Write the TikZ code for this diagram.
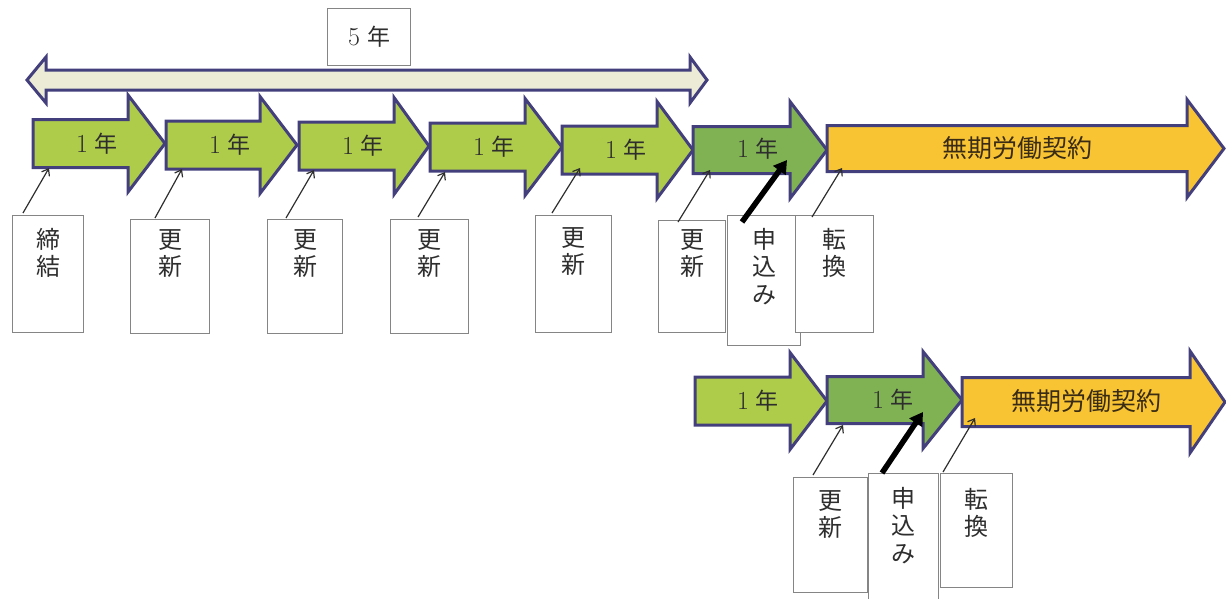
\documentclass[tikz,border=0pt]{standalone}
\usepackage{fontspec}
\newfontfamily\cjk{Noto Sans CJK JP}
\usetikzlibrary{arrows.meta,calc}
\definecolor{lgreen}{HTML}{AECB4A}
\definecolor{dgreen}{HTML}{80B254}
\definecolor{gold}{HTML}{F8C434}
\definecolor{edge}{HTML}{433F7C}
\definecolor{cream}{HTML}{ECEBD6}
\definecolor{boxgray}{HTML}{858585}
\definecolor{ink}{HTML}{2E2E2E}
\definecolor{brownink}{HTML}{3A2C14}
\newcommand\blockarr[7]{%
  \draw[arr, fill=#1] (#2,{#3-#6}) -- (#4,{#3-#6}) -- (#4,{#3-#7}) -- (#5,#3)
    -- (#4,{#3+#7}) -- (#4,{#3+#6}) -- (#2,{#3+#6}) -- cycle;}
\newcommand\tagbox[7]{%
  \node[box, minimum width={#4-#2}, minimum height={#5-#3}] (#1) at (#2,#3) {};
  \node[vtext] (#1t) at ([yshift=-#6pt]#1.north) {#7};}
\newcommand\oneyear[1]{{\fontsize{26}{26}\selectfont #1}\hspace{7pt}{\cjk 年}}
\begin{document}
\begin{tikzpicture}[x=1pt,y=-1pt,
  arr/.style={draw=edge, line width=3pt, line join=miter},
  box/.style={draw=boxgray, line width=1.1pt, fill=white, anchor=north west, inner sep=0pt},
  vtext/.style={anchor=north, align=center, font=\cjk\fontsize{24}{27.5}\selectfont, text=ink, inner sep=0pt},
  yr/.style={font=\fontsize{23}{23}\selectfont, text=ink, inner sep=0pt},
  big/.style={font=\cjk\fontsize{25}{25}\selectfont, text=brownink, inner sep=0pt},
  conn/.style={draw=ink, line width=1.2pt, -{Straight Barb[length=6pt,width=9pt]}},
  thickconn/.style={draw=black, line width=5.5pt, -{Triangle[length=13pt,width=15pt]}},
]
\useasboundingbox (0,0) rectangle (1226,598);

% 5-year double arrow
\draw[arr, fill=cream] (27,80) -- (46,57) -- (46,70) -- (690,70) -- (690,57) -- (707,80)
  -- (690,103) -- (690,90) -- (46,90) -- (46,103) -- cycle;
\node[box, minimum width=83pt, minimum height=57pt] (five) at (327,8) {};
\node[yr] (fivet) at (five.center) {\oneyear{5}};

% first row arrows
\blockarr{lgreen}{33}{143.5}{128}{165}{24}{48.5}
\blockarr{lgreen}{166}{145}{260}{297}{24}{48.5}
\blockarr{lgreen}{299}{146}{394}{429}{24}{48.5}
\blockarr{lgreen}{430}{147}{525}{562}{24}{48.5}
\blockarr{lgreen}{562}{150}{657}{693}{24}{48.5}
\blockarr{dgreen}{693}{150}{790}{827}{23.5}{48.5}
\blockarr{gold}{827}{148.5}{1187}{1224}{23}{49}
\node[yr] (r1) at (97,143.5) {\oneyear{1}};
\node[yr] (r2) at (230,145) {\oneyear{1}};
\node[yr] (r3) at (363,146) {\oneyear{1}};
\node[yr] (r4) at (494,147) {\oneyear{1}};
\node[yr] (r5) at (626,150) {\oneyear{1}};
\node[yr] (r6) at (758,149) {\oneyear{1}};
\node[big] (r7) at (1017,148) {無期労働契約};

% second row arrows
\blockarr{lgreen}{695}{401}{790}{827}{24}{48.5}
\blockarr{dgreen}{827}{400}{923}{962}{23.5}{48.5}
\blockarr{gold}{962}{402}{1190}{1225}{24.5}{51}
\node[yr] (s1) at (758,401) {\oneyear{1}};
\node[yr] (s2) at (893,400) {\oneyear{1}};
\node[big] (s3) at (1086,401) {無期労働契約};

% arrow attachment points
\coordinate (e1) at (49,168);
\coordinate (e2) at (182,169);
\coordinate (e3) at (314,170);
\coordinate (e4) at (445,172);
\coordinate (e5) at (580,168);
\coordinate (e6) at (710,170);
\coordinate (e7) at (787,160);
\coordinate (e8) at (842,168);
\coordinate (f1) at (843,425);
\coordinate (f2) at (923,412);
\coordinate (f3) at (975,418);

% first row boxes
\tagbox{b1}{12}{215}{83}{332}{13}{締\\結}
\tagbox{b2}{130}{219}{209}{333}{10}{更\\新}
\tagbox{b3}{267}{219}{342}{333}{10}{更\\新}
\tagbox{b4}{390}{219}{468}{333}{10}{更\\新}
\tagbox{b5}{535}{215}{611}{332}{12}{更\\新}
\tagbox{b6}{658}{220}{725}{332}{9}{更\\新}
\tagbox{b7}{727}{215}{800}{345}{13}{申\\込\\み}
\tagbox{b8}{795}{215}{873}{332}{13}{転\\換}

% second row boxes
\tagbox{c1}{793}{477}{867}{592}{13}{更\\新}
\tagbox{c2}{868}{473}{938}{605}{14}{申\\込\\み}
\tagbox{c3}{940}{473}{1012}{587}{15}{転\\換}

% connectors
\draw[conn] ($(b1.north west)+(11,-2)$) -- (e1);
\draw[conn] ($(b2.north west)+(25,-1)$) -- (e2);
\draw[conn] ($(b3.north west)+(19,-1)$) -- (e3);
\draw[conn] ($(b4.north west)+(28,-2)$) -- (e4);
\draw[conn] ($(b5.north west)+(17,-2)$) -- (e5);
\draw[conn] ($(b6.north west)+(20,2)$) -- (e6);
\draw[thickconn] ($(b7.north west)+(15,7)$) -- (e7);
\draw[conn] ($(b8.north west)+(17,2)$) -- (e8);
\draw[conn] ($(c1.north west)+(20,-2)$) -- (f1);
\draw[thickconn] ($(c2.north west)+(14,0)$) -- (f2);
\draw[conn] ($(c3.north west)+(3,-1)$) -- (f3);
\end{tikzpicture}
\end{document}
